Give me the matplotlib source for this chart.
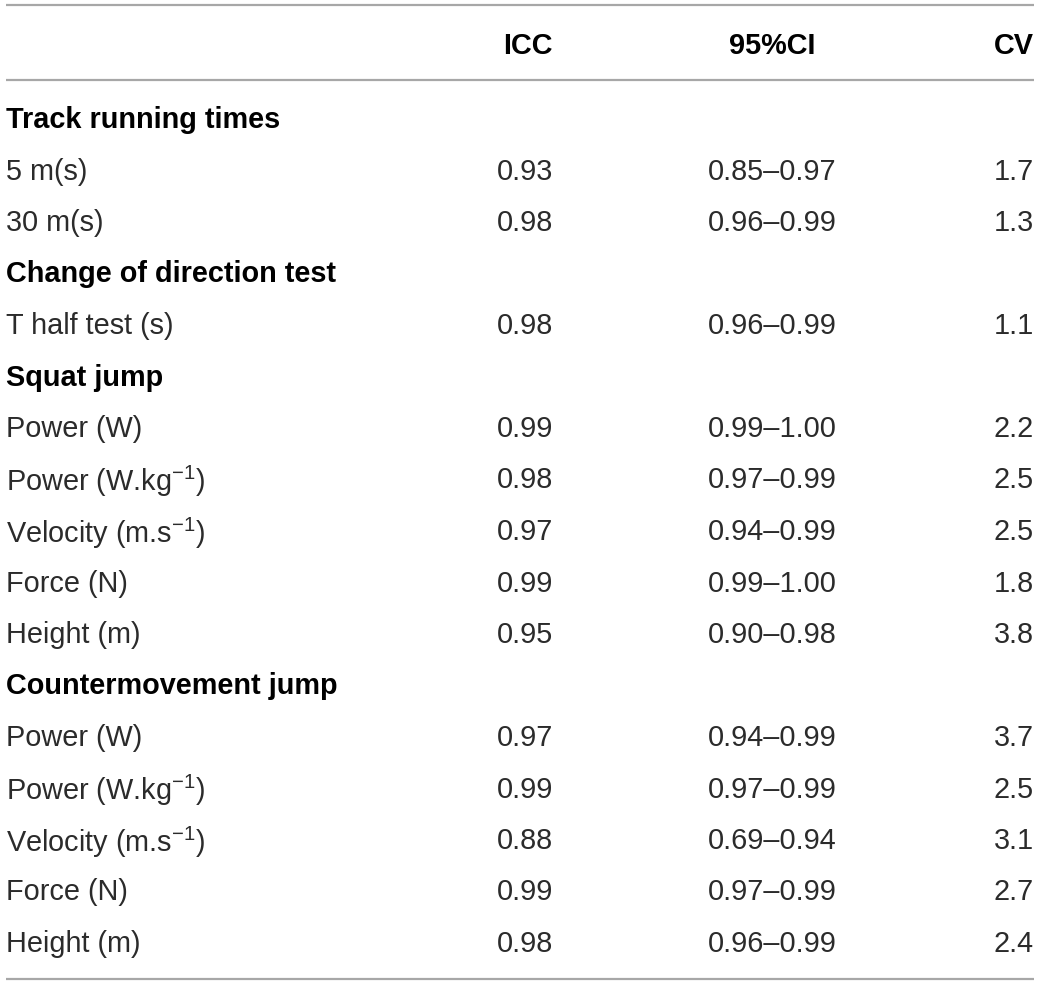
import matplotlib
matplotlib.use("Agg")
import matplotlib.pyplot as plt

plt.rcParams["font.family"] = ["Liberation Sans", "DejaVu Sans"]
plt.rcParams["mathtext.fontset"] = "custom"
plt.rcParams["mathtext.rm"] = "Liberation Sans"
plt.rcParams["mathtext.it"] = "Liberation Sans:italic"
plt.rcParams["mathtext.bf"] = "Liberation Sans:bold"

# table content
headers = ["", "ICC", "95%CI", "CV"]
sections = ["Track running times", "Change of direction test", "Squat jump", "Countermovement jump"]
labels = [
    ["5 m(s)", "30 m(s)"],
    ["T half test (s)"],
    ["Power (W)", "Power (W.kg$^{-1}$)", "Velocity (m.s$^{-1}$)", "Force (N)", "Height (m)"],
    ["Power (W)", "Power (W.kg$^{-1}$)", "Velocity (m.s$^{-1}$)", "Force (N)", "Height (m)"],
]
icc = [
    ["0.93", "0.98"],
    ["0.98"],
    ["0.99", "0.98", "0.97", "0.99", "0.95"],
    ["0.97", "0.99", "0.88", "0.99", "0.98"],
]
ci = [
    ["0.85–0.97", "0.96–0.99"],
    ["0.96–0.99"],
    ["0.99–1.00", "0.97–0.99", "0.94–0.99", "0.99–1.00", "0.90–0.98"],
    ["0.94–0.99", "0.97–0.99", "0.69–0.94", "0.97–0.99", "0.96–0.99"],
]
cv = [
    ["1.7", "1.3"],
    ["1.1"],
    ["2.2", "2.5", "2.5", "1.8", "3.8"],
    ["3.7", "2.5", "3.1", "2.7", "2.4"],
]

W, H = 1040, 986
fig = plt.figure(figsize=(W / 100, H / 100), dpi=100)
ax = fig.add_axes([0, 0, 1, 1])
ax.set_xlim(0, W)
ax.set_ylim(H, 0)
ax.axis("off")

fs = 20.8
txt = "#2b2b2b"
line_c = "#a7a7a7"
x_left, x_right = 6, 1034
x_icc, x_ci, x_cv = 553, 772, 1034

# rules
for y in (5, 80, 979):
    ax.plot([x_left, x_right], [y, y], color=line_c, lw=1.6, solid_capstyle="butt")

# header
hy = 43
ax.text(x_icc, hy, headers[1], ha="right", va="center_baseline", fontsize=fs, fontweight="bold", color="black")
ax.text(x_ci, hy, headers[2], ha="center", va="center_baseline", fontsize=fs, fontweight="bold", color="black")
ax.text(x_cv, hy, headers[3], ha="right", va="center_baseline", fontsize=fs, fontweight="bold", color="black")

# body
y0, step = 117, 51.5
row = 0
for s, sec in enumerate(sections):
    y = y0 + row * step
    ax.text(x_left, y, sec, ha="left", va="center_baseline", fontsize=fs, fontweight="bold", color="black")
    row += 1
    for lab, a, b, c in zip(labels[s], icc[s], ci[s], cv[s]):
        y = y0 + row * step
        ax.text(x_left, y, lab, ha="left", va="center_baseline", fontsize=fs, color=txt)
        ax.text(x_icc, y, a, ha="right", va="center_baseline", fontsize=fs, color=txt)
        ax.text(x_ci, y, b, ha="center", va="center_baseline", fontsize=fs, color=txt)
        ax.text(x_cv, y, c, ha="right", va="center_baseline", fontsize=fs, color=txt)
        row += 1

fig.savefig("out.png", dpi=100, facecolor="white")
